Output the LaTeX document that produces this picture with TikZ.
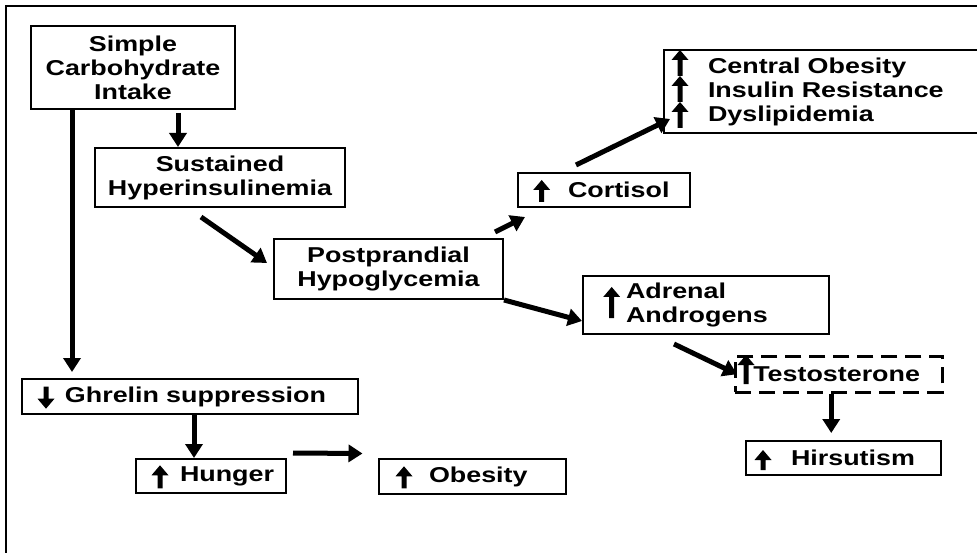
\documentclass[tikz,border=0pt]{standalone}
\usepackage{fontspec}
\setmainfont{Liberation Sans}[FakeStretch=1.25]
\usetikzlibrary{arrows.meta}
\tikzset{
  box/.style={draw, line width=2pt, anchor=north west, inner xsep=0pt, inner ysep=0pt,
    font=\fontsize{21.5}{24}\selectfont\bfseries},
  cbox/.style={box, align=center},
  lbox/.style={box, align=left},
  dbox/.style={lbox, dash pattern=on 16pt off 8pt, line width=2.5pt},
  arr/.style={line width=5pt, -{Triangle[length=14pt,width=17pt]}},
  frame/.style={line width=2pt},
  upg/.pic={\fill (-2.5,0) -- (-2.5,-#1+10) -- (-8.5,-#1+10) -- (0,-#1) -- (8.5,-#1+10) -- (2.5,-#1+10) -- (2.5,0) -- cycle;},
  dng/.pic={\fill (-2.5,0) -- (-2.5,#1-10) -- (-8.5,#1-10) -- (0,#1) -- (8.5,#1-10) -- (2.5,#1-10) -- (2.5,0) -- cycle;},
}
\begin{document}
\begin{tikzpicture}[x=1pt, y=-1pt]
\path[use as bounding box, clip] (0,0) rectangle (977,553);
\draw[frame] (5.5,553) -- (5.5,6) -- (977,6);

\node[cbox, text width=204pt, minimum height=83pt] (simple) at (30,25) {Simple\\Carbohydrate\\Intake};
\node[cbox, text width=250pt, minimum height=59pt] (sust) at (94,147) {Sustained\\Hyperinsulinemia};
\node[cbox, text width=229pt, minimum height=60pt] (post) at (273,238) {Postprandial\\Hypoglycemia};
\node[lbox, text width=336pt, minimum height=35pt] (ghrelin) at (21,378) {\hspace*{43pt}Ghrelin suppression};
\node[lbox, text width=150pt, minimum height=34pt] (hunger) at (135,458) {\hspace*{44pt}Hunger};
\node[lbox, text width=187pt, minimum height=35pt] (obes) at (378,458) {\hspace*{50pt}Obesity};
\node[lbox, text width=172pt, minimum height=34pt] (cort) at (517,172) {\hspace*{50pt}Cortisol};
\node[lbox, text width=340pt, minimum height=83pt] (central) at (663,49) {\hspace*{44pt}Central Obesity\\\hspace*{44pt}Insulin Resistance\\\hspace*{44pt}Dyslipidemia};
\node[lbox, text width=246pt, minimum height=58pt] (adren) at (582,275) {\hspace*{43pt}Adrenal\\\hspace*{43pt}Androgens};
\node[dbox, text width=207pt, minimum height=36pt] (testo) at (734,355) {\hspace*{18pt}Testosterone};
\node[lbox, text width=195pt, minimum height=34pt] (hirs) at (745,440) {\hspace*{45pt}Hirsutism};

% arrow glyphs
\pic at ([shift={(25,8.7)}]ghrelin.north west) {dng=22};
\pic at ([shift={(25,30.3)}]hunger.north west) {upg=23};
\pic at ([shift={(26,30.3)}]obes.north west) {upg=22};
\pic at ([shift={(24.7,30)}]cort.north west) {upg=22};
\pic at ([shift={(17,79)}]central.north west) {upg=26};
\pic at ([shift={(17,53)}]central.north west) {upg=26};
\pic at ([shift={(17,27)}]central.north west) {upg=26};
\pic at ([shift={(29.7,43)}]adren.north west) {upg=31};
\pic at ([shift={(12,29)}]testo.north west) {upg=29};
\pic at ([shift={(18,30)}]hirs.north west) {upg=20};

% connectors
\draw[arr] ([shift={(45,3)}]simple.south) -- ([xshift=45pt]simple.south |- sust.north);
\draw[arr, shorten >=6pt] ([shift={(-61,0)}]simple.south) -- ([xshift=-61pt]simple.south |- ghrelin.north);
\draw[arr] ([xshift=-17pt]hunger.north |- ghrelin.south) -- ([xshift=-17pt]hunger.north);
\draw[arr] ([shift={(6,-23)}]hunger.east) -- ([shift={(-15.5,-23)}]obes.west);
\draw[arr] ([shift={(-19,9)}]sust.south) -- ([shift={(-6,-6)}]post.west);
\draw[arr] ([shift={(-9,-6)}]post.north east) -- ([shift={(8,9)}]cort.south west);
\draw[arr] ([shift={(-28,-7)}]cort.north) -- ([shift={(7,-15)}]central.south west);
\draw[arr] (post.south east) -- ([shift={(0,-14)}]adren.south west);
\draw[arr] ([shift={(-32,9)}]adren.south) -- ([shift={(3,0)}]testo.west);
\draw[arr, shorten >=7pt] ([xshift=-7.5pt]testo.south) -- ([xshift=-7.5pt]testo.south |- hirs.north);
\end{tikzpicture}
\end{document}
